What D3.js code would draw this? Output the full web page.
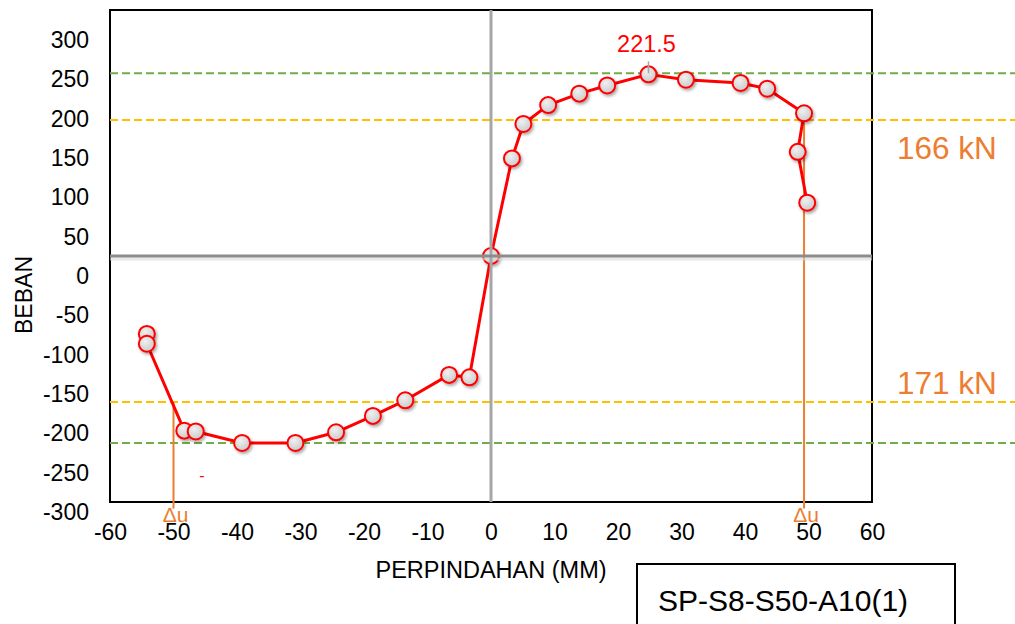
<!DOCTYPE html>
<html><head><meta charset="utf-8">
<script src="https://cdn.jsdelivr.net/npm/d3@7"></script>
<style>body{margin:0;background:#fff;}svg{display:block;font-family:"Liberation Sans",Arial,sans-serif;}</style>
</head><body>
<svg id="c" width="1015" height="624"></svg>
<script>
// ---- data ----
const dispX = [-54.2,-54.2,-48.3,-46.5,-39.2,-30.8,-24.4,-18.6,-13.5,-6.6,-3.4,0,3.3,5.1,9.0,13.9,18.3,24.8,30.7,39.3,43.5,49.3,48.3,49.8];
const loadY = [-95,-107,-213,-214,-228,-228,-215,-195,-176,-145,-148,0,119,161,184,198,208,221.5,215,211,204,174,127,65];
const xTicks = [-60,-50,-40,-30,-20,-10,0,10,20,30,40,50,60];
const yTicks = [300,250,200,150,100,50,0,-50,-100,-150,-200,-250,-300];
const peakLabel = "221.5";
const refGreen = [223,-228];
const refYellow = [166,-178];
const refLabels = ["166 kN","171 kN"];
const deltaU = [{x:-50, from:-178}, {x:49.3, from:174}];
const specimen = "SP-S8-S50-A10(1)";

const svg = d3.select("#c");
const L=110,R=872,T=10,B=502;
const x = d3.scaleLinear().domain([-60,60]).range([L,R]);
const y = d3.scaleLinear().domain([-300,300]).range([B,T]);
const yLab = d3.scaleLinear().domain([-300,300]).range([512,40]);
const FONT = "Liberation Sans, Arial, sans-serif";

const defs = svg.append("defs");
const f = defs.append("filter").attr("id","sh").attr("x","-50%").attr("y","-50%").attr("width","200%").attr("height","200%");
f.append("feDropShadow").attr("dx",1.5).attr("dy",2).attr("stdDeviation",1.5).attr("flood-color","#000").attr("flood-opacity",0.35);
const g = defs.append("radialGradient").attr("id","mg").attr("cx","40%").attr("cy","35%").attr("r","70%");
g.append("stop").attr("offset","0%").attr("stop-color","#f0f0f0");
g.append("stop").attr("offset","100%").attr("stop-color","#c8c8c8");

// frame
svg.append("rect").attr("x",L).attr("y",T).attr("width",R-L).attr("height",B-T).attr("fill","none").attr("stroke","#000").attr("stroke-width",2);

// reference dashed lines
refGreen.forEach(v=>svg.append("line").attr("x1",L).attr("x2",1015).attr("y1",y(v)).attr("y2",y(v)).attr("stroke","#70AD47").attr("stroke-width",2).attr("stroke-dasharray","8,4"));
refYellow.forEach(v=>svg.append("line").attr("x1",L).attr("x2",1015).attr("y1",y(v)).attr("y2",y(v)).attr("stroke","#FFC000").attr("stroke-width",2).attr("stroke-dasharray","8,4"));

// axes labels
const xa = svg.append("g").attr("transform",`translate(0,${B})`).call(d3.axisBottom(x).tickValues(xTicks).tickSize(0).tickPadding(22).tickFormat(d=>String(d)));
xa.select(".domain").remove();
xa.selectAll("text").attr("font-size",23).attr("fill","#000").attr("font-family",FONT);
const ya = svg.append("g").attr("transform",`translate(${L},0)`).call(d3.axisLeft(yLab).tickValues(yTicks).tickSize(0).tickPadding(21).tickFormat(d=>String(d)));
ya.select(".domain").remove();
ya.selectAll("text").attr("font-size",23).attr("fill","#000").attr("font-family",FONT);

svg.append("text").attr("x",x(0)).attr("y",578).attr("text-anchor","middle").attr("font-size",23.5).text("PERPINDAHAN (MM)");
svg.append("text").attr("transform","translate(32,295) rotate(-90)").attr("text-anchor","middle").attr("font-size",23).text("BEBAN");

// Δu lines
deltaU.forEach(d=>{
  svg.append("line").attr("x1",x(d.x)).attr("x2",x(d.x)).attr("y1",y(d.from)).attr("y2",y(-308)).attr("stroke","#ED7D31").attr("stroke-width",2);
  svg.append("text").attr("x",x(d.x)+2).attr("y",522).attr("text-anchor","middle").attr("fill","#ED7D31").attr("font-size",21).text("Δu");
});

// data line
const pts = dispX.map((d,i)=>[d,loadY[i]]);
svg.append("path").datum(pts).attr("d",d3.line().x(d=>x(d[0])).y(d=>y(d[1]))).attr("fill","none").attr("stroke","#FF0000").attr("stroke-width",3).attr("stroke-linejoin","round");
svg.selectAll("circle.m").data(pts).join("circle").attr("class","m").attr("cx",d=>x(d[0])).attr("cy",d=>y(d[1])).attr("r",8)
  .attr("fill","url(#mg)").attr("stroke","#FF0000").attr("stroke-width",2).attr("filter","url(#sh)");

// gray axes (drawn over the markers, as in the reference)
svg.append("line").attr("x1",L).attr("x2",R).attr("y1",y(0)+3).attr("y2",y(0)+3).attr("stroke","#d9d9d9").attr("stroke-width",3).attr("opacity",0.6);
svg.append("line").attr("x1",x(0)).attr("x2",x(0)).attr("y1",T).attr("y2",B).attr("stroke","#a6a6a6").attr("stroke-width",3);
svg.append("line").attr("x1",L).attr("x2",R).attr("y1",y(0)).attr("y2",y(0)).attr("stroke","#8c8c8c").attr("stroke-width",3);

// peak label
const pk = pts[d3.maxIndex(pts,d=>d[1])];
svg.append("line").attr("x1",x(pk[0])).attr("x2",x(pk[0])).attr("y1",y(pk[1])-13).attr("y2",y(pk[1])-1).attr("stroke","#a6a6a6").attr("stroke-width",1.5);
svg.append("text").attr("x",x(pk[0])-2).attr("y",52).attr("text-anchor","middle").attr("fill","#FF0000").attr("font-size",23.5).text(peakLabel);
svg.append("text").attr("x",202).attr("y",481).attr("text-anchor","middle").attr("fill","#FF0000").attr("font-size",16).text("-");

// kN labels
svg.append("text").attr("x",897).attr("y",159).attr("fill","#ED7D31").attr("font-size",31.5).text(refLabels[0]);
svg.append("text").attr("x",897).attr("y",394).attr("fill","#ED7D31").attr("font-size",31.5).text(refLabels[1]);

// specimen box
svg.append("rect").attr("x",637).attr("y",564).attr("width",318).attr("height",80).attr("fill","#fff").attr("stroke","#000").attr("stroke-width",2);
svg.append("text").attr("x",658).attr("y",611).attr("font-size",30).text(specimen);
</script>
</body></html>
